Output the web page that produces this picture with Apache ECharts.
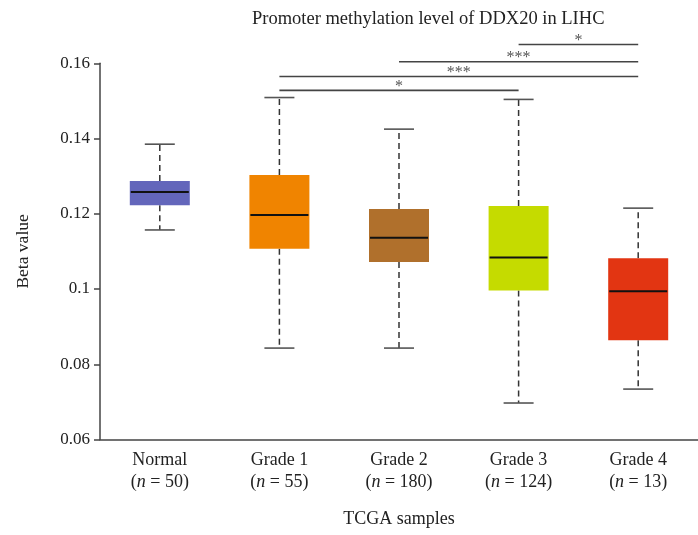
<!DOCTYPE html>
<html>
<head>
<meta charset="utf-8">
<script src="https://cdn.jsdelivr.net/npm/echarts@6/dist/echarts.min.js"></script>
<style>
html,body{margin:0;padding:0;background:#fff;}
#chart{width:698px;height:535px;}
</style>
</head>
<body>
<div id="chart"></div>
<script>
var categories = ['Normal', 'Grade 1', 'Grade 2', 'Grade 3', 'Grade 4'];
var sampleSizes = [50, 55, 180, 124, 13];
// [min, q1, median, q3, max]
var boxNormal = [0.1157, 0.1223, 0.1258, 0.1287, 0.1385];
var boxGrade1 = [0.0843, 0.1107, 0.1197, 0.1303, 0.1509];
var boxGrade2 = [0.0843, 0.1072, 0.1136, 0.1213, 0.1425];
var boxGrade3 = [0.0697, 0.0996, 0.1084, 0.1221, 0.1504];
var boxGrade4 = [0.0734, 0.0864, 0.0994, 0.1082, 0.1215];
var boxColors = ['#6366bb', '#f08400', '#b0702c', '#c5db00', '#e23512'];
var yTicks = [0.06, 0.08, 0.1, 0.12, 0.14, 0.16];
// significance brackets: [from index, to index, y level, label]
var bracketFrom = [1, 1, 2, 3];
var bracketTo = [3, 4, 4, 4];
var bracketLevel = [0.1528, 0.1565, 0.1604, 0.1650];
var bracketLabel = ['*', '***', '***', '*'];

var boxes = [boxNormal, boxGrade1, boxGrade2, boxGrade3, boxGrade4];
var boxData = boxes.map(function (b, i) { return [i].concat(b); });
var bracketData = bracketFrom.map(function (f, i) {
  return [f, bracketTo[i], bracketLevel[i], bracketLabel[i]];
});

var FONT = '"Liberation Serif", "DejaVu Serif", serif';
var chart = echarts.init(document.getElementById('chart'), null, {renderer: 'canvas'});

var option = {
  animation: false,
  backgroundColor: '#fff',
  title: {
    text: 'Promoter methylation level of DDX20 in LIHC',
    left: 252, top: 10, padding: 0,
    textStyle: {fontFamily: FONT, fontSize: 18.5, fontWeight: 'normal', color: '#222'}
  },
  grid: {left: 100, top: 63.3, width: 602, height: 376.2, containLabel: false},
  xAxis: {
    type: 'category',
    data: categories,
    boundaryGap: true,
    name: 'TCGA samples',
    nameLocation: 'middle',
    nameGap: 71,
    nameTextStyle: {fontFamily: FONT, fontSize: 18, color: '#222'},
    axisLine: {lineStyle: {color: '#444', width: 1.5}},
    axisTick: {show: false},
    axisLabel: {
      interval: 0,
      hideOverlap: false,
      margin: 10,
      lineHeight: 22,
      fontFamily: FONT, fontSize: 18, color: '#222',
      formatter: function (v, i) {
        return v + '\n({i|n} = ' + sampleSizes[i] + ')';
      },
      rich: {
        i: {fontStyle: 'italic', fontFamily: FONT, fontSize: 18, color: '#222', lineHeight: 22}
      }
    },
    splitLine: {show: false}
  },
  yAxis: {
    type: 'value',
    min: 0.06, max: 0.16, interval: 0.02,
    name: 'Beta value',
    nameLocation: 'middle',
    nameGap: 68,
    nameTextStyle: {fontFamily: FONT, fontSize: 17.5, color: '#222'},
    axisLine: {show: true, lineStyle: {color: '#444', width: 1.5}},
    axisTick: {show: true, length: 6, lineStyle: {color: '#444', width: 1.5}},
    axisLabel: {
      margin: 10, fontFamily: FONT, fontSize: 17, color: '#222',
      formatter: function (v) {
        for (var k = 0; k < yTicks.length; k++) {
          if (Math.abs(yTicks[k] - v) < 1e-9) return String(yTicks[k]);
        }
        return '';
      }
    },
    splitLine: {show: false}
  },
  series: [
    {
      type: 'custom',
      data: boxData,
      encode: {x: 0, y: [1, 2, 3, 4, 5]},
      renderItem: function (params, api) {
        var idx = api.value(0);
        var bw = 60;
        var pMin = api.coord([idx, api.value(1)]);
        var pQ1 = api.coord([idx, api.value(2)]);
        var pMed = api.coord([idx, api.value(3)]);
        var pQ3 = api.coord([idx, api.value(4)]);
        var pMax = api.coord([idx, api.value(5)]);
        var x = pMed[0];
        var cap = 30;
        var dashStyle = {stroke: '#333', lineWidth: 1.5, lineDash: [6, 4]};
        var capStyle = {stroke: '#555', lineWidth: 1.6};
        return {
          type: 'group',
          children: [
            {type: 'line', shape: {x1: x, y1: pQ3[1], x2: x, y2: pMax[1]}, style: dashStyle},
            {type: 'line', shape: {x1: x, y1: pQ1[1], x2: x, y2: pMin[1]}, style: dashStyle},
            {type: 'line', shape: {x1: x - cap / 2, y1: pMax[1], x2: x + cap / 2, y2: pMax[1]}, style: capStyle},
            {type: 'line', shape: {x1: x - cap / 2, y1: pMin[1], x2: x + cap / 2, y2: pMin[1]}, style: capStyle},
            {type: 'rect', shape: {x: x - bw / 2, y: pQ3[1], width: bw, height: pQ1[1] - pQ3[1]},
              style: {fill: boxColors[params.dataIndex]}},
            {type: 'line', shape: {x1: x - bw / 2 + 1, y1: pMed[1], x2: x + bw / 2 - 1, y2: pMed[1]},
              style: {stroke: '#111', lineWidth: 2}}
          ]
        };
      }
    },
    {
      type: 'custom',
      clip: false,
      data: bracketData,
      encode: {x: [0, 1], y: 2},
      renderItem: function (params, api) {
        var p1 = api.coord([api.value(0), api.value(2)]);
        var p2 = api.coord([api.value(1), api.value(2)]);
        var label = bracketLabel[params.dataIndex];
        return {
          type: 'group',
          children: [
            {type: 'line', shape: {x1: p1[0], y1: p1[1], x2: p2[0], y2: p2[1]},
              style: {stroke: '#444', lineWidth: 1.6}},
            {type: 'text', x: (p1[0] + p2[0]) / 2, y: p1[1] + 4,
              style: {text: label, fill: '#555', font: '16px ' + FONT, align: 'center', verticalAlign: 'bottom'}}
          ]
        };
      }
    }
  ]
};
chart.setOption(option);
</script>
</body>
</html>
